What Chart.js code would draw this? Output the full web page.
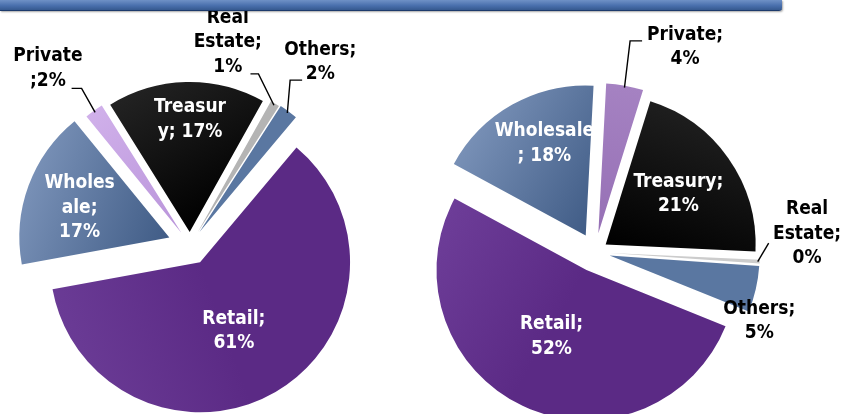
<!DOCTYPE html>
<html>
<head>
<meta charset="utf-8">
<script src="https://cdn.jsdelivr.net/npm/chart.js@4.4.0/dist/chart.umd.min.js"></script>
<style>
  html, body { margin: 0; padding: 0; background: #fff; }
  body { width: 842px; height: 414px; overflow: hidden; position: relative; }
  .bar {
    position: absolute; left: 0; top: 0; width: 782px; height: 10px; z-index: 2;
    background: linear-gradient(#6f91c6, #4a70ad 55%, #36598f);
    border-bottom: 1px solid #1d3b6c; border-bottom-right-radius: 3px;
    box-shadow: 1px 1px 2px rgba(0, 0, 0, .35);
  }
  .pie { position: absolute; top: 0; }
  #leftBox { left: 0; width: 380px; height: 490px; }
  #rightBox { left: 345px; width: 500px; height: 504px; }
</style>
</head>
<body>
<div class="bar"></div>
<div class="pie" id="leftBox"><canvas id="leftPie"></canvas></div>
<div class="pie" id="rightBox"><canvas id="rightPie"></canvas></div>

<script>
// data
const categories = ["Retail", "Wholesale", "Private", "Treasury", "Real Estate", "Others"];
const leftValues = [61, 17, 2, 17, 1, 2];
const rightValues = [52, 18, 4, 21, 0.4, 5];

// label text, wrapped as on the slide
const leftLabels = [["Retail;", "61%"], ["Wholes", "ale;", "17%"], ["Private", ";2%"],
  ["Treasur", "y; 17%"], ["Real", "Estate;", "1%"], ["Others;", "2%"]];
const rightLabels = [["Retail;", "52%"], ["Wholesale", "; 18%"], ["Private;", "4%"],
  ["Treasury;", "21%"], ["Real", "Estate;", "0%"], ["Others;", "5%"]];

// styles
const FONT = "bold 19px 'DejaVu Sans Condensed', 'DejaVu Sans', sans-serif";

const leftColors = [
  { from: "#6a3b95", to: "#5b2a85", ang: 250 },
  { from: "#7890b6", to: "#405c86", ang: 290 },
  { from: "#d0b0ea", to: "#b994da", ang: 324 },
  { from: "#222222", to: "#000000", ang: 330 },
  "#b4b4b4",
  "#5a77a1"
];
const rightColors = [
  { from: "#6d3d98", to: "#5b2a85", ang: 300 },
  { from: "#7890b6", to: "#405c86", ang: 300 },
  { from: "#a582c2", to: "#9670b5", ang: 10 },
  { from: "#1e1e1e", to: "#000000", ang: 20 },
  "#cccccc",
  "#5a77a1"
];

const leftGaps = [20, 22, 15, 13, 15, 16];
const rightGaps = [20, 19, 19, 13, 15, 15];

// label places: k = share of radius, da = turn from slice middle (deg)
const leftPlaces = [
  { k: 0.51, da: 4, inside: true },
  { k: 0.63, da: -2, inside: true },
  { k: 1.41, da: -3.5, lead: { k: 1.17, da: 1, h: -10 } },
  { k: 0.75, da: 1.6, inside: true },
  { k: 1.28, da: -22, lead: { k: 1.13, da: -10, h: -8 } },
  { k: 1.39, da: -1, lead: { k: 1.18, da: -5.6, h: 12 } }
];
const rightPlaces = [
  { k: 0.50, da: 2.6, inside: true },
  { k: 0.67, da: 5, inside: true },
  { k: 1.37, da: 14.8, lead: { k: 1.30, da: -0.8, h: 12 } },
  { k: 0.59, da: 0.3, inside: true },
  { k: 1.32, da: -8.9, lead: { k: 1.06, da: -6.9, h: 0 } },
  { k: 1.09, da: 10.7 }
];

function paint(chart, spec, radius) {
  if (typeof spec === "string") return spec;
  const area = chart.chartArea;
  if (!area) return spec.to;
  const cx = (area.left + area.right) / 2;
  const cy = (area.top + area.bottom) / 2;
  const a = (spec.ang - 90) * Math.PI / 180;
  const g = chart.ctx.createLinearGradient(
    cx + Math.cos(a) * radius, cy + Math.sin(a) * radius, cx, cy);
  g.addColorStop(0, spec.from);
  g.addColorStop(1, spec.to);
  return g;
}

// draws each slice pulled out from the middle
function explodePlugin(gaps) {
  return {
    id: "explode",
    beforeDatasetDraw(chart, args) {
      const ctx = chart.ctx;
      args.meta.data.forEach((arc, i) => {
        const mid = (arc.startAngle + arc.endAngle) / 2;
        ctx.save();
        ctx.translate(Math.cos(mid) * gaps[i], Math.sin(mid) * gaps[i]);
        arc.draw(ctx, chart.chartArea);
        ctx.restore();
      });
      return false;
    }
  };
}

function labelPlugin(gaps, labels, places) {
  return {
    id: "sliceLabels",
    afterDraw(chart) {
      const ctx = chart.ctx;
      const meta = chart.getDatasetMeta(0);
      ctx.save();
      ctx.font = FONT;
      ctx.textAlign = "center";
      ctx.textBaseline = "middle";
      meta.data.forEach((arc, i) => {
        const p = places[i];
        const R = arc.outerRadius;
        const mid = (arc.startAngle + arc.endAngle) / 2;
        const ox = arc.x + Math.cos(mid) * gaps[i];
        const oy = arc.y + Math.sin(mid) * gaps[i];
        const a = mid + p.da * Math.PI / 180;
        const lx = ox + Math.cos(a) * p.k * R;
        const ly = oy + Math.sin(a) * p.k * R;

        if (p.lead) {
          const e = mid + p.lead.da * Math.PI / 180;
          const ex = ox + Math.cos(e) * p.lead.k * R;
          const ey = oy + Math.sin(e) * p.lead.k * R;
          ctx.beginPath();
          ctx.moveTo(ox + Math.cos(mid) * (R - 2), oy + Math.sin(mid) * (R - 2));
          ctx.lineTo(ex, ey);
          ctx.lineTo(ex + p.lead.h, ey);
          ctx.strokeStyle = "#000";
          ctx.lineWidth = 1.4;
          ctx.stroke();
        }

        const lines = labels[i];
        const lh = 24.5;
        ctx.fillStyle = p.inside ? "#ffffff" : "#000000";
        lines.forEach((t, j) => {
          ctx.fillText(t, lx, ly + (j - (lines.length - 1) / 2) * lh);
        });
      });
      ctx.restore();
    }
  };
}

function makePie(id, values, colors, gaps, labels, places, rotation) {
  return new Chart(document.getElementById(id), {
    type: "pie",
    data: {
      labels: categories,
      datasets: [{
        data: values,
        backgroundColor: (c) => paint(c.chart, colors[c.dataIndex], 150),
        borderWidth: 0,
        hoverOffset: 0
      }]
    },
    options: {
      responsive: true,
      maintainAspectRatio: false,
      animation: false,
      events: [],
      radius: 150,
      rotation: rotation,
      layout: { padding: 0 },
      plugins: {
        legend: { display: false },
        tooltip: { enabled: false }
      }
    },
    plugins: [explodePlugin(gaps), labelPlugin(gaps, labels, places)]
  });
}

makePie("leftPie", leftValues, leftColors, leftGaps, leftLabels, leftPlaces, 40);
makePie("rightPie", rightValues, rightColors, rightGaps, rightLabels, rightPlaces, 112);
</script>
</body>
</html>
